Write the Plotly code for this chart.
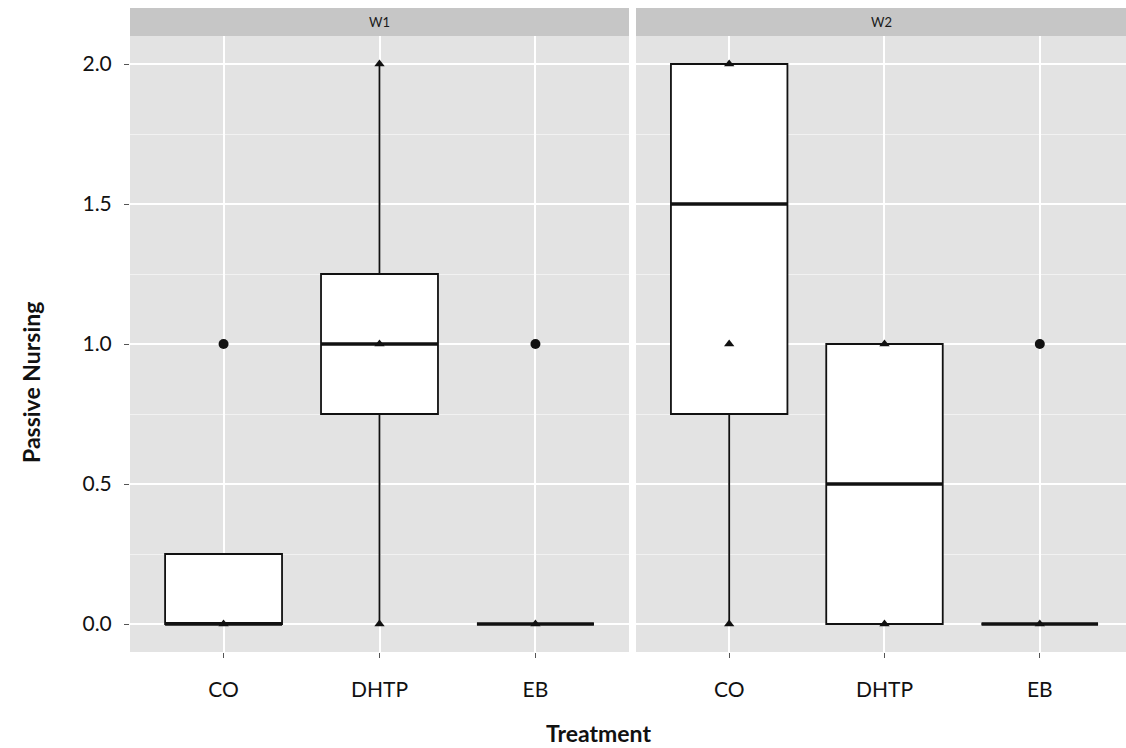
import plotly.graph_objects as go

W, H = 1126, 748

categories = ["CO", "DHTP", "EB"]
panels = ["W1", "W2"]

# box statistics per panel: q1, median, q3, lower whisker, upper whisker
q1 = {"W1": [0.0, 0.75, 0.0], "W2": [0.75, 0.0, 0.0]}
median = {"W1": [0.0, 1.0, 0.0], "W2": [1.5, 0.5, 0.0]}
q3 = {"W1": [0.25, 1.25, 0.0], "W2": [2.0, 1.0, 0.0]}
lower = {"W1": [0.0, 0.0, 0.0], "W2": [0.0, 0.0, 0.0]}
upper = {"W1": [0.25, 2.0, 0.0], "W2": [2.0, 1.0, 0.0]}

# outliers (circles)
out_cat = {"W1": ["CO", "EB"], "W2": ["EB"]}
out_val = {"W1": [1.0, 1.0], "W2": [1.0]}

# triangle points
tri_cat = {"W1": ["CO", "DHTP", "DHTP", "DHTP", "EB"],
           "W2": ["CO", "CO", "CO", "DHTP", "DHTP", "EB"]}
tri_val = {"W1": [0.0, 0.0, 1.0, 2.0, 0.0],
           "W2": [0.0, 1.0, 2.0, 0.0, 1.0, 0.0]}

y_ticks = [0.0, 0.5, 1.0, 1.5, 2.0]
y_ticktext = ["0.0", "0.5", "1.0", "1.5", "2.0"]

BOXW = 0.75
FONT = "Lato, 'Open Sans', sans-serif"

# pixel layout
p1_l, p1_r = 130, 629
p2_l, p2_r = 636, 1126
top_px, bot_px = 36, 652
strip_top = 8

def fx(px):
    return px / W

def fy(py):
    return (H - py) / H

fig = go.Figure()
cat_idx = {c: i for i, c in enumerate(categories)}

for k, p in enumerate(panels):
    xa = "x" if k == 0 else "x2"
    ya = "y" if k == 0 else "y2"
    xs = list(range(len(categories)))
    fig.add_trace(go.Box(
        x=xs, q1=q1[p], median=median[p], q3=q3[p],
        lowerfence=lower[p], upperfence=upper[p],
        width=BOXW, fillcolor="white",
        line=dict(color="#111111", width=1.8),
        whiskerwidth=0, boxpoints=False,
        xaxis=xa, yaxis=ya, showlegend=False, hoverinfo="skip",
    ))
    # thicker median lines
    mx, my = [], []
    for i, m in enumerate(median[p]):
        mx += [i - BOXW / 2, i + BOXW / 2, None]
        my += [m, m, None]
    fig.add_trace(go.Scatter(
        x=mx, y=my, mode="lines", line=dict(color="#111111", width=3.4),
        xaxis=xa, yaxis=ya, showlegend=False, hoverinfo="skip",
    ))
    # outliers
    fig.add_trace(go.Scatter(
        x=[cat_idx[c] for c in out_cat[p]], y=out_val[p], mode="markers",
        marker=dict(symbol="circle", size=10, color="#111111"),
        xaxis=xa, yaxis=ya, showlegend=False, hoverinfo="skip",
    ))
    # triangles
    fig.add_trace(go.Scatter(
        x=[cat_idx[c] for c in tri_cat[p]], y=tri_val[p], mode="markers",
        marker=dict(symbol="triangle-up", size=9, color="#111111"),
        xaxis=xa, yaxis=ya, showlegend=False, hoverinfo="skip",
    ))

xcommon = dict(
    tickmode="array", tickvals=list(range(len(categories))), ticktext=categories,
    showgrid=True, gridcolor="white", gridwidth=1.6, zeroline=False,
    ticks="outside", ticklen=5, tickcolor="#555555", tickwidth=1,
    tickfont=dict(family=FONT, size=21, color="#111111"),
    ticklabelstandoff=14, showline=False,
)
ycommon = dict(
    range=[-0.1, 2.1], tickmode="array", tickvals=y_ticks, ticktext=y_ticktext,
    showgrid=True, gridcolor="white", gridwidth=1.6, zeroline=False,
    minor=dict(dtick=0.25, tick0=0, showgrid=True, gridcolor="#F2F2F2", gridwidth=0.8),
    ticks="outside", ticklen=5, tickcolor="#555555", tickwidth=1,
    tickfont=dict(family=FONT, size=21, color="#111111"),
    ticklabelstandoff=8, showline=False,
    domain=[fy(bot_px), fy(top_px)],
)

fig.update_layout(
    width=W, height=H,
    margin=dict(l=0, r=0, t=0, b=0),
    paper_bgcolor="white",
    plot_bgcolor="#E3E3E3",
    boxmode="overlay",
    xaxis=dict(xcommon, domain=[fx(p1_l), fx(p1_r)], range=[-0.6, 2.6], anchor="y"),
    xaxis2=dict(xcommon, domain=[fx(p2_l), fx(p2_r)], range=[-0.6, 2.555], anchor="y2"),
    yaxis=dict(ycommon, anchor="x"),
    yaxis2=dict(ycommon, anchor="x2", showticklabels=False, ticks=""),
)

# strips
for (l, r), p in zip([(p1_l, p1_r), (p2_l, p2_r)], panels):
    fig.add_shape(type="rect", xref="paper", yref="paper",
                  x0=fx(l), x1=fx(r), y0=fy(top_px), y1=fy(strip_top),
                  fillcolor="#C6C6C6", line=dict(width=0), layer="below")
    fig.add_annotation(text=p, xref="paper", yref="paper",
                       x=fx((l + r) / 2), y=fy((top_px + strip_top) / 2),
                       showarrow=False, font=dict(family=FONT, size=13, color="#1A1A1A"),
                       xanchor="center", yanchor="middle")

# axis titles
fig.add_annotation(text="<b>Passive Nursing</b>", xref="paper", yref="paper",
                   x=fx(31), y=fy(383), textangle=-90, showarrow=False,
                   font=dict(family=FONT, size=23, color="#111111"),
                   xanchor="center", yanchor="middle")
fig.add_annotation(text="<b>Treatment</b>", xref="paper", yref="paper",
                   x=fx(598), y=fy(733), showarrow=False,
                   font=dict(family=FONT, size=23, color="#111111"),
                   xanchor="center", yanchor="middle")

fig.write_html("out.html", config={"displayModeBar": False},
               post_script="document.body.style.margin='0';document.body.style.overflow='hidden';")
